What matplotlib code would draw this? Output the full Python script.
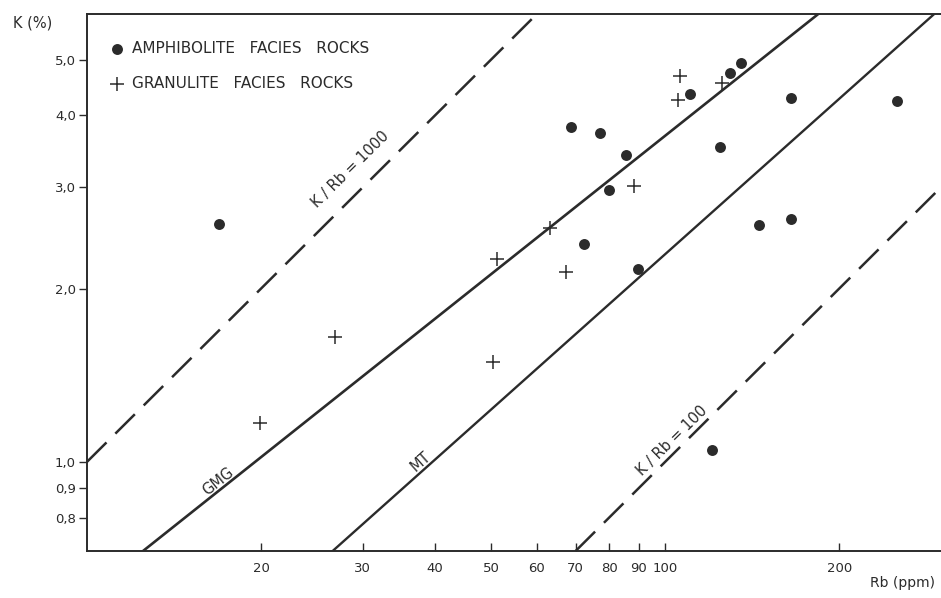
import matplotlib
matplotlib.use('Agg')
import matplotlib.pyplot as plt
from matplotlib.ticker import FixedLocator, FixedFormatter, NullLocator

# amphibolite facies rocks (Rb ppm, K %)
amph_rb = [16.9, 68.6, 77.0, 85.4, 80.1, 72.3, 89.6, 110.6, 124.6, 129.7, 135.5, 165.2, 145.6, 165.2, 251.9, 120.7]
amph_k = [2.59, 3.82, 3.72, 3.42, 2.97, 2.39, 2.16, 4.35, 3.53, 4.73, 4.94, 4.29, 2.58, 2.64, 4.23, 1.05]

# granulite facies rocks
gran_rb = [19.9, 26.8, 50.3, 51.1, 63.1, 67.5, 88.5, 105.9, 105.4, 125.6]
gran_k = [1.168, 1.648, 1.491, 2.253, 2.55, 2.14, 3.01, 4.69, 4.26, 4.56]

# reference lines, end points (Rb, K)
kr1000_rb, kr1000_k = [10, 60], [1.0, 6.0]
kr100_rb, kr100_k = [70, 300], [0.7, 3.0]
gmg_rb, gmg_k = [12.5, 184], [0.70, 6.0]
mt_rb, mt_k = [26.6, 292], [0.70, 6.0]

xticks = [20, 30, 40, 50, 60, 70, 80, 90, 100, 200]
xticklabels = ['20', '30', '40', '50', '60', '70', '80', '90', '100', '200']
yticks = [0.8, 0.9, 1.0, 2.0, 3.0, 4.0, 5.0]
yticklabels = ['0,8', '0,9', '1,0', '2,0', '3,0', '4,0', '5,0']

ink = '#2b2b2b'
plt.rcParams['font.family'] = ['DejaVu Sans']

fig = plt.figure(figsize=(9.41, 5.98), dpi=100)
ax = fig.add_axes([87 / 941, 47 / 598, 854 / 941, 537 / 598])
ax.set_xscale('log')
ax.set_yscale('log')
ax.set_xlim(10, 300)
ax.set_ylim(0.7, 6.0)

ax.plot(kr1000_rb, kr1000_k, color=ink, lw=1.8, dashes=(11, 5))
ax.plot(kr100_rb, kr100_k, color=ink, lw=1.8, dashes=(11, 5))
ax.plot(gmg_rb, gmg_k, color=ink, lw=1.9)
ax.plot(mt_rb, mt_k, color=ink, lw=1.7)

ax.scatter(amph_rb, amph_k, s=62, color=ink, marker='o', linewidths=0,
           label='AMPHIBOLITE   FACIES   ROCKS', zorder=3)
ax.scatter(gran_rb, gran_k, s=95, color=ink, marker='+', linewidths=1.1,
           label='GRANULITE   FACIES   ROCKS', zorder=3)

ax.text(28.6, 3.22, 'K / Rb = 1000', rotation=44.5, ha='center', va='center',
        fontsize=10.5, color=ink)
ax.text(103, 1.09, 'K / Rb = 100', rotation=44.5, ha='center', va='center',
        fontsize=10.5, color=ink)
ax.text(16.86, 0.926, 'GMG', rotation=38.5, ha='center', va='center',
        fontsize=10.5, color=ink)
ax.text(37.8, 1.0, 'MT', rotation=41.5, ha='center', va='center',
        fontsize=10.5, color=ink)

ax.xaxis.set_major_locator(FixedLocator(xticks))
ax.xaxis.set_major_formatter(FixedFormatter(xticklabels))
ax.xaxis.set_minor_locator(NullLocator())
ax.yaxis.set_major_locator(FixedLocator(yticks))
ax.yaxis.set_major_formatter(FixedFormatter(yticklabels))
ax.yaxis.set_minor_locator(NullLocator())
ax.tick_params(axis='x', direction='in', length=6, width=1, pad=8,
               labelsize=9.5, colors=ink)
ax.tick_params(axis='y', direction='out', length=6, width=1, pad=2,
               labelsize=9.5, colors=ink)

for side in ['left', 'bottom', 'top']:
    ax.spines[side].set_color(ink)
    ax.spines[side].set_linewidth(1.4)
ax.spines['right'].set_visible(False)

fig.text(13 / 941, 1 - 23 / 598, 'K (%)', fontsize=10.5, color=ink, va='center')
fig.text(935 / 941, 1 - 583 / 598, 'Rb (ppm)', fontsize=10, color=ink,
         va='center', ha='right')

ax.legend(loc='upper left', bbox_to_anchor=(0.01, 0.975), frameon=False,
          fontsize=11, handlelength=1.0, handletextpad=0.5, labelspacing=1.3,
          labelcolor=ink)

fig.savefig('out.png', dpi=100)
